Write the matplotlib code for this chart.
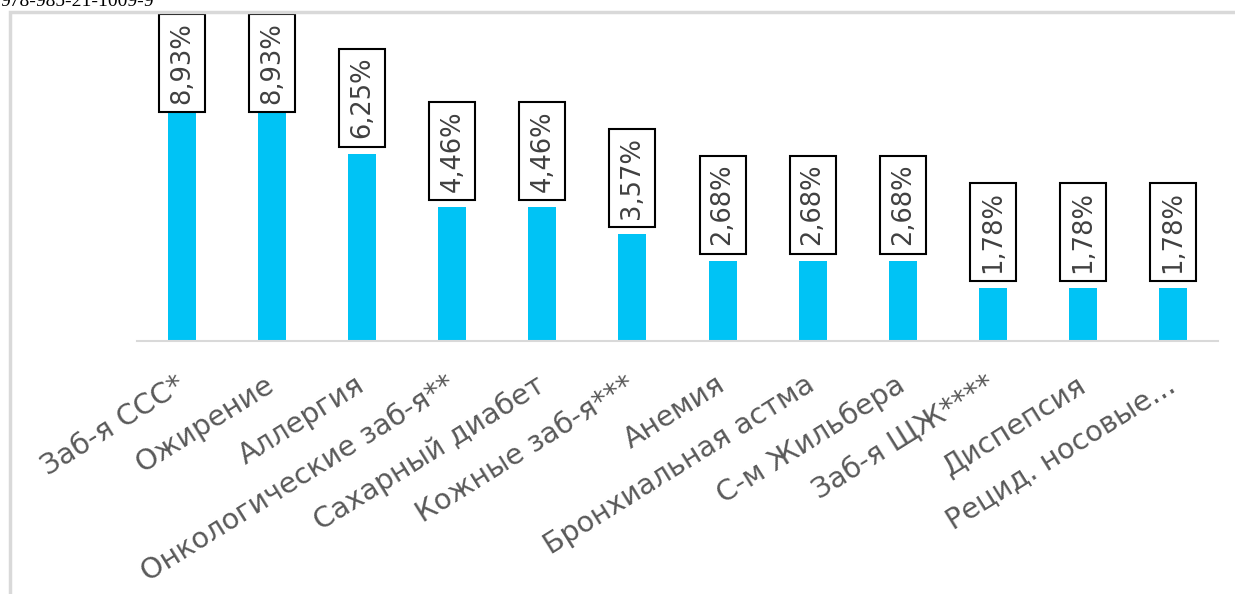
import matplotlib
matplotlib.use("Agg")
import matplotlib.pyplot as plt
from matplotlib.patches import Rectangle

categories = ["Заб-я ССС*", "Ожирение", "Аллергия", "Онкологические заб-я**",
              "Сахарный диабет", "Кожные заб-я***", "Анемия", "Бронхиальная астма",
              "С-м Жильбера", "Заб-я ЩЖ****", "Диспепсия", "Рецид. носовые..."]
values = [8.93, 8.93, 6.25, 4.46, 4.46, 3.57, 2.68, 2.68, 2.68, 1.78, 1.78, 1.78]
labels = ["8,93%", "8,93%", "6,25%", "4,46%", "4,46%", "3,57%",
          "2,68%", "2,68%", "2,68%", "1,78%", "1,78%", "1,78%"]

bar_color = "#00C3F5"
ymax = 10.9
box_w, box_h, gap = 0.51, 3.27, 0.23

fig = plt.figure(figsize=(12.35, 5.94), dpi=100)

# outer frame (light gray), runs off right and bottom edges
fig.patches.append(Rectangle((10 / 1235, -0.1), 1.2, 1.1 - 12 / 594, transform=fig.transFigure,
                             fill=False, edgecolor="#d9d9d9", linewidth=2.5))
fig.text(0.0, 1 - 6 / 594, "978-985-21-1009-9", family="Liberation Serif", fontsize=14,
         va="baseline", ha="left", color="black")

ax = fig.add_axes([137 / 1235, 253 / 594, 1081 / 1235, 327 / 594])
x = range(len(categories))
ax.bar(x, values, width=0.31, color=bar_color, zorder=2)
ax.set_xlim(-0.5, len(categories) - 0.5)
ax.set_ylim(0, ymax)

for i, (v, lab) in enumerate(zip(values, labels)):
    y0 = min(v + gap, ymax - box_h)
    ax.add_patch(Rectangle((i - box_w / 2, y0), box_w, box_h, facecolor="white",
                           edgecolor="black", linewidth=1.5, zorder=3))
    ax.text(i, y0 + box_h / 2, lab, rotation=90, ha="center", va="center",
            fontsize=18.5, color="#404040", zorder=4)

for s in ["top", "right", "left"]:
    ax.spines[s].set_visible(False)
ax.spines["bottom"].set_color("#d9d9d9")
ax.spines["bottom"].set_linewidth(1.5)
ax.set_yticks([])
ax.set_xticks(list(x))
ax.set_xticklabels(categories, rotation=32, ha="right", va="center",
                   rotation_mode="anchor", fontsize=20.5, color="#595959")
ax.tick_params(axis="x", length=0, pad=30)

fig.savefig("out.png", dpi=100)
